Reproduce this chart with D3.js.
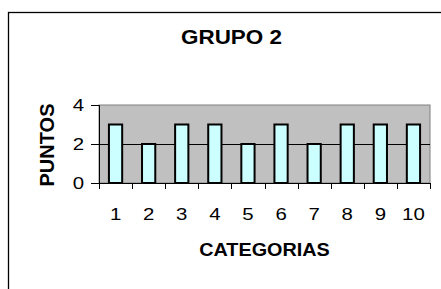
<!DOCTYPE html>
<html><head><meta charset="utf-8">
<script src="https://cdn.jsdelivr.net/npm/d3@7"></script>
<style>html,body{margin:0;padding:0;background:#fff;}svg{display:block;}text{font-family:"Liberation Sans",Arial,sans-serif;fill:#000;}</style>
</head><body>
<svg id="c" width="441" height="289"></svg>
<script>
const categories = ["1","2","3","4","5","6","7","8","9","10"];
const values = [3,2,3,3,2,3,2,3,3,3];
const yTicks = [0,2,4];
const title = "GRUPO 2";
const xTitle = "CATEGORIAS";
const yTitle = "PUNTOS";

const svg = d3.select("#c");
const stretch = 1.2;
function widen(sel, f){ sel.each(function(){ const l=this.getComputedTextLength(); d3.select(this).attr("textLength", l*f).attr("lengthAdjust","spacingAndGlyphs"); }); }

// outer frame
svg.append("rect").attr("x",8.5).attr("y",12.5).attr("width",460).attr("height",300)
  .attr("fill","#fff").attr("stroke","#000").attr("stroke-width",1.3);

const L=99, R=430, T=105, B=183;
const x = d3.scaleBand().domain(categories).range([L,R]).paddingInner(0).paddingOuter(0);
const y = d3.scaleLinear().domain([0,4]).range([B,T]);

// plot area
svg.append("rect").attr("x",L).attr("y",T).attr("width",R-L).attr("height",B-T)
  .attr("fill","#C0C0C0").attr("stroke","#808080").attr("stroke-width",1);

// gridlines
svg.append("g").selectAll("line").data(yTicks.filter(d=>d>0 && d<4)).join("line")
  .attr("x1",L).attr("x2",R).attr("y1",d=>Math.round(y(d))+0.5).attr("y2",d=>Math.round(y(d))+0.5)
  .attr("stroke","#000").attr("stroke-width",1);

// bars
const bw = x.bandwidth()/2.5;
svg.append("g").selectAll("rect").data(values).join("rect")
  .attr("x",(d,i)=>x(categories[i])+x.bandwidth()/2-bw/2)
  .attr("y",d=>y(d)).attr("width",bw).attr("height",d=>y(0)-y(d))
  .attr("fill","#CCFFFF").attr("stroke","#000").attr("stroke-width",2);

// y axis
const yAxis = svg.append("g").attr("transform",`translate(${L},0)`)
  .call(d3.axisLeft(y).tickValues(yTicks).tickSize(8).tickPadding(7).tickFormat(d3.format("d")));
yAxis.select(".domain").attr("stroke","#000");
yAxis.selectAll("line").attr("stroke","#000");
yAxis.selectAll("text").attr("font-size",17).attr("fill","#000").style("font-family","'Liberation Sans',Arial,sans-serif");
widen(yAxis.selectAll("text"), stretch);

// x axis
const xAxis = svg.append("g").attr("transform",`translate(0,${B})`)
  .call(d3.axisBottom(x).tickSize(0).tickPadding(25));
xAxis.select(".domain").remove();
xAxis.selectAll(".tick line").remove();
xAxis.selectAll("text").attr("font-size",17).attr("fill","#000").style("font-family","'Liberation Sans',Arial,sans-serif");
widen(xAxis.selectAll("text"), stretch);
// boundary ticks
const bounds = categories.map(c=>x(c)).concat([R]);
svg.append("g").selectAll("line").data(bounds).join("line")
  .attr("x1",d=>Math.round(d)+0.5).attr("x2",d=>Math.round(d)+0.5).attr("y1",B).attr("y2",B+6)
  .attr("stroke","#000");
svg.append("line").attr("x1",L).attr("x2",R).attr("y1",B+0.5).attr("y2",B+0.5).attr("stroke","#000");

// titles
const t = svg.append("text").attr("x",231.5).attr("y",44).attr("text-anchor","middle")
  .attr("font-size",19.5).attr("font-weight","bold").text(title);
widen(t, 1.15);
const xt = svg.append("text").attr("x",264.5).attr("y",256).attr("text-anchor","middle")
  .attr("font-size",18).attr("font-weight","bold").text(xTitle);
widen(xt, 1.1);
const yt = svg.append("text").attr("transform","translate(54,145) rotate(-90)").attr("text-anchor","middle")
  .attr("font-size",20).attr("font-weight","bold").text(yTitle);
</script>
</body></html>
